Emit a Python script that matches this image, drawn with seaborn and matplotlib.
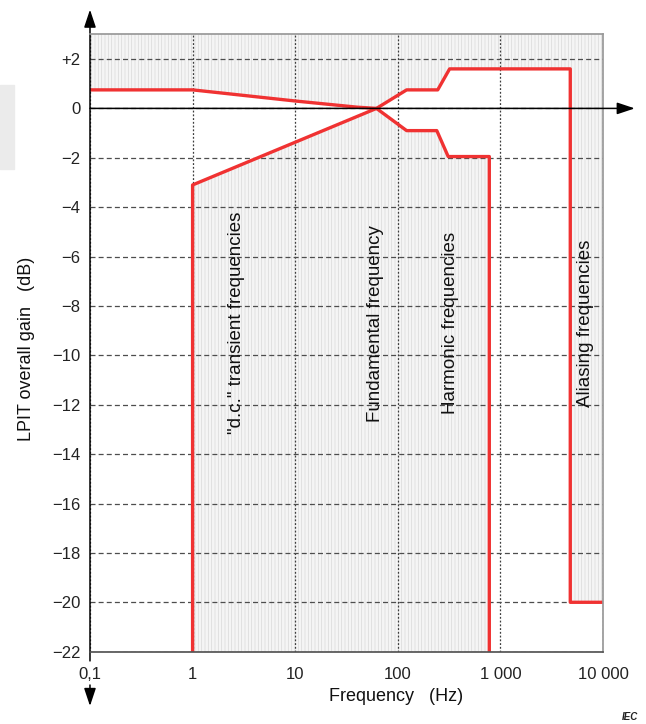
import matplotlib
matplotlib.use("Agg")
import numpy as np
import matplotlib.pyplot as plt
from matplotlib.patches import Rectangle
import seaborn as sns

# -----------------------
# DATA
# -----------------------
freq_ticks = [0.1, 1, 10, 100, 1000, 10000]
freq_labels = ["0,1", "1", "10", "100", "1 000", "10 000"]
gain_ticks = [2, 0, -2, -4, -6, -8, -10, -12, -14, -16, -18, -20, -22]
gain_labels = ["+2", "0", "\u22122", "\u22124", "\u22126", "\u22128", "\u221210",
               "\u221212", "\u221214", "\u221216", "\u221218", "\u221220", "\u221222"]

freq_min, freq_max = 0.1, 10000
gain_min, gain_max = -22, 3

# limit curve starting top-left (falls through the crossing, ends at ~780 Hz)
freq_a = [0.1, 1, 10, 40, 62, 122, 240, 310, 780, 780]
gain_a = [0.75, 0.75, 0.3, 0.05, 0.0, -0.9, -0.9, -1.95, -1.95, -22]
# limit curve starting at 1 Hz (rises through the crossing, aliasing step)
freq_b = [1, 1, 62, 122, 245, 320, 4800, 4800, 10000]
gain_b = [-22, -3.1, 0.0, 0.75, 0.75, 1.6, 1.6, -20, -20]
cross_a, cross_b = 4, 2  # index of the common crossing point

band_labels = ['"d.c." transient frequencies', "Fundamental frequency",
               "Harmonic frequencies", "Aliasing frequencies"]
band_freqs = [2.7, 60, 323, 6700]
band_gain = -8.7

RED = "#f03232"

# -----------------------
# STYLE
# -----------------------
sns.set_theme(style="white")
plt.rcParams["font.family"] = ["Liberation Sans", "DejaVu Sans"]
plt.rcParams["hatch.linewidth"] = 0.5

fig = plt.figure(figsize=(6.46, 7.24), dpi=100)
ax = fig.add_axes([0.1393, 0.0999, 0.7941, 0.8527])
ax.set_xscale("log")
ax.set_xlim(freq_min, freq_max)
ax.set_ylim(gain_min, gain_max)

# grey screenshot patch at the left margin
fig.patches.append(Rectangle((0, 1 - 169 / 724), 14 / 646, 84 / 724,
                             transform=fig.transFigure, color="#ebebeb", zorder=0))

# textured "forbidden" area, then the white allowed area between the curves
ax.fill([freq_min, freq_max, freq_max, freq_min], [gain_min, gain_min, gain_max, gain_max],
        facecolor="#f5f5f5", edgecolor="#d9d9d9", hatch="|||||", lw=0, zorder=0.1)
poly_x = (freq_a[:cross_a + 1] + freq_b[cross_b + 1:] + [freq_max]
          + freq_a[cross_a + 1:][::-1] + freq_a[cross_a:cross_a + 1]
          + freq_b[:cross_b][::-1] + [freq_min])
poly_y = (gain_a[:cross_a + 1] + gain_b[cross_b + 1:] + [gain_min]
          + gain_a[cross_a + 1:][::-1] + gain_a[cross_a:cross_a + 1]
          + gain_b[:cross_b][::-1] + [gain_min])
ax.fill(poly_x, poly_y, facecolor="white", lw=0, zorder=0.2)

# grid
ax.set_axisbelow(True)
ax.yaxis.grid(True, color="#4d4d4d", lw=0.9, ls=(0, (4, 2.5)))
ax.xaxis.grid(True, color="#3d3d3d", lw=0.9, ls=(0, (1.5, 1.5)))
ax.minorticks_off()

# limit curves
sns.lineplot(x=freq_a, y=gain_a, sort=False, estimator=None, color=RED, lw=2.4, ax=ax, zorder=3)
sns.lineplot(x=freq_b, y=gain_b, sort=False, estimator=None, color=RED, lw=2.4, ax=ax, zorder=3)

# ticks
ax.set_xticks(freq_ticks)
ax.set_xticklabels(freq_labels)
ax.set_yticks(gain_ticks)
ax.set_yticklabels(gain_labels)
ax.tick_params(axis="both", length=0, labelsize=12, colors="#222222")
ax.tick_params(axis="x", pad=11)
ax.tick_params(axis="y", pad=7)

# spines
ax.spines["left"].set_color("black")
ax.spines["left"].set_linewidth(1.1)
ax.spines["top"].set_color("#999999")
ax.spines["right"].set_color("#999999")
ax.spines["bottom"].set_color("#555555")
for s in ax.spines.values():
    s.set_zorder(4)

# arrows on the axes
arrow = dict(arrowstyle="-|>,head_length=0.9,head_width=0.3", color="black", lw=1.1,
             shrinkA=0, shrinkB=0)
ax.annotate("", xy=(1.062, 0), xytext=(0, 0), xycoords=("axes fraction", "data"),
            textcoords=("axes fraction", "data"), arrowprops=arrow, zorder=5)
ax.annotate("", xy=(0, 1.04), xytext=(0, 1.0), xycoords="axes fraction",
            arrowprops=arrow, annotation_clip=False)
ax.annotate("", xy=(0, -0.088), xytext=(0, -0.054), xycoords="axes fraction",
            arrowprops=arrow, annotation_clip=False)
ax.annotate("", xy=(0, -0.015), xytext=(0, 0), xycoords="axes fraction",
            arrowprops=dict(arrowstyle="-", color="black", lw=1.1, shrinkA=0, shrinkB=0),
            annotation_clip=False)

# band labels
for f, lab in zip(band_freqs, band_labels):
    ax.text(f, band_gain, lab, rotation=90, ha="center", va="center",
            fontsize=13.5, color="#111111", zorder=4)

ax.set_xlabel("Frequency   (Hz)", fontsize=13, color="#111111", va="center")
ax.xaxis.set_label_coords(0.597, -0.073)
ax.set_ylabel("LPIT overall gain   (dB)", fontsize=13, color="#111111", va="center")
ax.yaxis.set_label_coords(-0.123, 0.49)

fig.text(630 / 646, 1 - 717 / 724, "IEC", fontsize=7, style="italic", weight="bold",
         ha="center", va="center", color="#222222")

fig.savefig("out.png", dpi=100)
